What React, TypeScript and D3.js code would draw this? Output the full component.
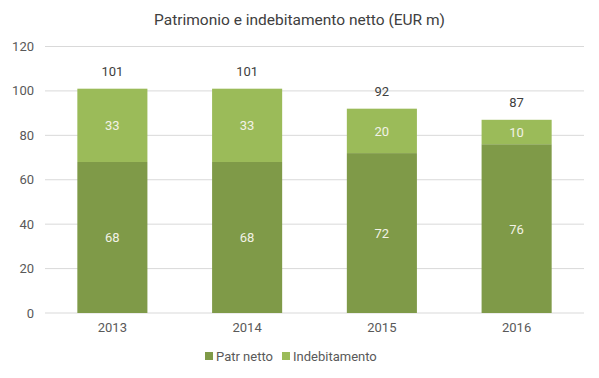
import React from "react";
import * as d3 from "d3";

const categories = ["2013", "2014", "2015", "2016"];
const patrNetto = [68, 68, 72, 76];
const indebitamento = [33, 33, 20, 10];
const totals = [101, 101, 92, 87];
const yTicks = [0, 20, 40, 60, 80, 100, 120];
const seriesNames = ["Patr netto", "Indebitamento"];
const colors = ["#7f9a48", "#9bbb59"];

export default function App() {
  const W = 599, H = 378;
  const left = 45, right = 584, top = 46.5, bottom = 313;
  const x = d3.scaleBand().domain(categories).range([left, right]).paddingInner(0.48).paddingOuter(0.24);
  const y = d3.scaleLinear().domain([0, 120]).range([bottom, top]);
  const font = "Roboto, 'Liberation Sans', sans-serif";
  const rows = categories.map((c, i) => ({ c, a: patrNetto[i], b: indebitamento[i], t: totals[i] }));
  return (
    <svg width={W} height={H} style={{ position: "absolute", left: 0, top: 0, background: "#fff" }} fontFamily={font}>
      <text x={W / 2} y={25} textAnchor="middle" fontSize={15.5} fill="#404040">Patrimonio e indebitamento netto (EUR m)</text>
      {yTicks.map(t => (
        <g key={t}>
          <line x1={left} x2={right} y1={y(t)} y2={y(t)} stroke="#d9d9d9" strokeWidth={1} />
          <text x={34} y={y(t) + 4.5} textAnchor="end" fontSize={13} fill="#595959">{t}</text>
        </g>
      ))}
      {rows.map(r => {
        const bx = x(r.c)!, bw = x.bandwidth();
        return (
          <g key={r.c}>
            <rect x={bx} y={y(r.a)} width={bw} height={y(0) - y(r.a)} fill={colors[0]} />
            <rect x={bx} y={y(r.t)} width={bw} height={y(r.a) - y(r.t)} fill={colors[1]} />
            <text x={bx + bw / 2} y={(y(0) + y(r.a)) / 2 + 5} textAnchor="middle" fontSize={13} fill="#f2f2e6">{r.a}</text>
            <text x={bx + bw / 2} y={(y(r.a) + y(r.t)) / 2 + 5} textAnchor="middle" fontSize={13} fill="#f2f2e6">{r.b}</text>
            <text x={bx + bw / 2} y={y(r.t) - 13} textAnchor="middle" fontSize={13} fill="#404040">{r.t}</text>
            <text x={bx + bw / 2} y={332} textAnchor="middle" fontSize={13} fill="#595959">{r.c}</text>
          </g>
        );
      })}
      <g>
        <rect x={205} y={352} width={8} height={8} fill={colors[0]} />
        <text x={216} y={360.5} fontSize={13} fill="#595959">{seriesNames[0]}</text>
        <rect x={282} y={352} width={8} height={8} fill={colors[1]} />
        <text x={293} y={360.5} fontSize={13} fill="#595959">{seriesNames[1]}</text>
      </g>
    </svg>
  );
}
